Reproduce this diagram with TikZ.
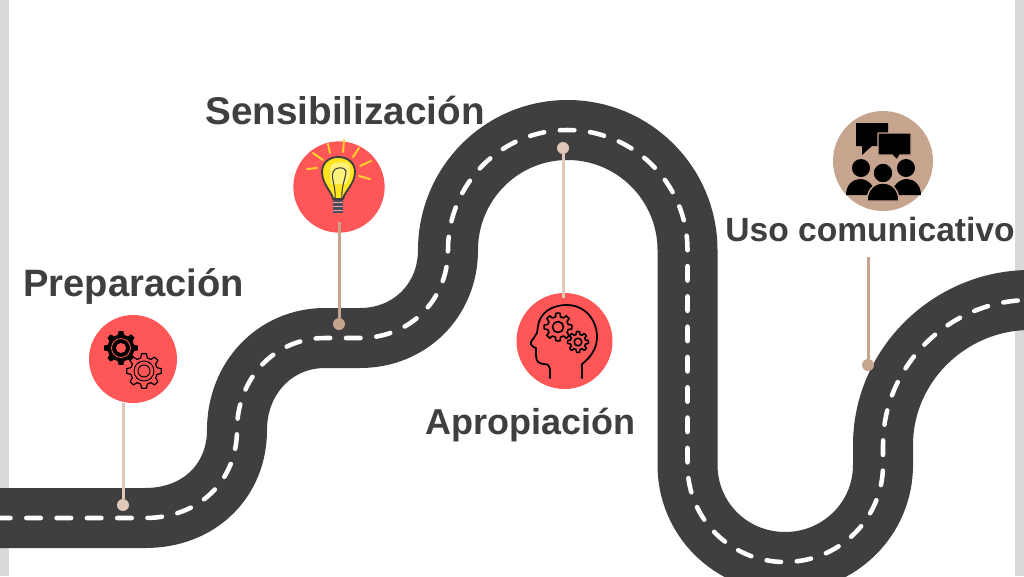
\documentclass[tikz,border=0pt]{standalone}
\usepackage{fontspec}
\setmainfont{Liberation Sans}
\usetikzlibrary{positioning}
\definecolor{roadgray}{HTML}{3F3F3F}
\definecolor{coral}{HTML}{FF5757}
\definecolor{tan}{HTML}{C7A48E}
\definecolor{lighttan}{HTML}{DFC8B7}
\definecolor{sidebar}{HTML}{D9D9D9}
\definecolor{bulbyellow}{HTML}{FFE41F}
\definecolor{bulblight}{HTML}{FFF27A}
\definecolor{raygold}{HTML}{FFCF2E}
\definecolor{basegray}{HTML}{46505F}
\tikzset{
	title/.style={font=\bfseries\fontsize{#1}{30pt}\selectfont, text=roadgray, inner sep=0pt},
	badge/.style={circle, fill=coral, inner sep=0pt},
	pindot/.style={circle, fill=tan, inner sep=0pt, minimum size=9pt},
	pinline/.style={tan, line width=2.25pt},
	ray/.style={raygold, line width=1.5pt, line cap=round},
	iconline/.style={draw=black, line width=1.3pt, line join=round, line cap=round},
}
\begin{document}
\begin{tikzpicture}[x=0.75pt,y=-0.75pt]
	\def\roadpath{(-5,518) -- (145,518) .. controls (200,518) and (237,480) .. (237,430)
		.. controls (237,378) and (275,338) .. (325,338) -- (360,338)
		.. controls (410,338) and (448,300) .. (448,250)
		.. controls (448,184) and (501,130) .. (567.5,130)
		.. controls (634,130) and (687.5,184) .. (687.5,250) -- (687.5,465)
		.. controls (687.5,519) and (731,562) .. (785,562)
		.. controls (839,562) and (883,519) .. (883,465) -- (883,445)
		.. controls (883,365) and (950,300) .. (1030,300)}
	\def\gearline[#1](#2,#3,#4,#5){
		\path[#1, shift={(#2,#3)}] (-14:#5) \foreach \a in {0,45,...,315}{
			-- (\a-14:#5) -- (\a-8:#4) -- (\a+8:#4) -- (\a+14:#5)} -- cycle;}
	\useasboundingbox (0,0) rectangle (1024,576);
	\fill[white] (0,0) rectangle (1024,576);
	\fill[sidebar] (0,0) rectangle (9,576);
	\fill[sidebar] (1015,0) rectangle (1024,576);
	\draw[roadgray, line width=45pt] \roadpath;
	\draw[white, line width=3.4pt, line cap=round, dash pattern=on 10.9pt off 11.83pt, dash phase=22] \roadpath;
	% badges
	\node[badge, minimum size=66pt] (prep) at (133,359) {};
	\node[badge, minimum size=68.5pt] (sens) at (339,187) {};
	\node[badge, minimum size=72pt] (apro) at (564.5,341) {};
	\node[badge, fill=tan, minimum size=75pt] (uso) at (883,161) {};
	% pins
	\node[pindot, fill=lighttan] (prepdot) at (123,505) {};
	\node[pindot] (sensdot) at (339,324) {};
	\node[pindot, fill=lighttan] (aprodot) at (563,148) {};
	\node[pindot] (usodot) at (868,365) {};
	\coordinate (senstop) at (339,222);
	\coordinate (aproend) at (563,298);
	\coordinate (usotop) at (868,257);
	\draw[pinline, lighttan] (prep.south -| prepdot) -- (prepdot);
	\draw[pinline] (senstop) -- (sensdot);
	\draw[pinline, lighttan] (aprodot) -- (aproend);
	\draw[pinline] (usotop) -- (usodot);
	% gears of the first badge
	\gearline[fill=black](121,348,17,13.5)
	\draw[coral, line width=0.6pt] (121,348) circle (9.5);
	\fill[coral] (121,348) circle (5);
	\gearline[draw=black, fill=coral, line width=0.9pt, line join=round](144,371,17.5,13.5)
	\draw[black, line width=0.7pt] (144,371) circle (10) (144,371) circle (6);
	% lamp
	\foreach \xa/\ya/\xb/\yb in {313/153/323/160, 328/144/330/153, 344/140/343/152, 359/148/353/157,
		371/161/360/166, 370/179/359/176, 307/169/317/168}{
		\draw[ray] (\xa,\ya) -- (\xb,\yb);}
	\fill[basegray] (333,198) rectangle (343,213);
	\foreach \y in {202,206,210}{\draw[coral!60!white, line width=0.5pt] (333,\y) -- (343,\y);}
	\draw[roadgray, fill=bulbyellow, line width=1.4pt, line join=round] (333,199)
		.. controls (332,192) and (322,184) .. (322,172)
		.. controls (322,163) and (329,157) .. (338,157)
		.. controls (348,157) and (355,163) .. (355,172)
		.. controls (355,184) and (344,192) .. (343,199) -- cycle;
	\fill[bulblight] (330,172) .. controls (328,163) and (340,160) .. (349,164)
		.. controls (352,170) and (350,178) .. (346,184) -- (331,184) -- cycle;
	\draw[roadgray, line width=0.8pt] (335,198) .. controls (336,186) and (331,180) .. (333,172)
		.. controls (334,167) and (345,166) .. (346,171) .. controls (346,178) and (341,186) .. (342,198);
	% head with gears
	\draw[iconline] (582,378) -- (582,364) .. controls (590,358) and (597,349) .. (597,337)
		.. controls (597,319) and (584,305) .. (567,305) .. controls (551,305) and (540,313) .. (538,326)
		-- (537,333) -- (531,342) .. controls (530,345) and (533,347) .. (536,348) -- (536,356)
		.. controls (536,362) and (540,364) .. (544,364) .. controls (548,364) and (550,366) .. (550,369) -- (550,378);
	\gearline[iconline, line width=1.2pt](558,327,14,10.5)
	\draw[iconline, line width=1.2pt] (558,327) circle (5.5);
	\gearline[iconline, line width=1.2pt](578,342,10.5,7.8)
	\draw[iconline, line width=1.2pt] (578,342) circle (3.8);
	% people talking
	\fill[black] (856,123) rectangle (888,146) (862,146) -- (862,155) -- (872,146) -- cycle;
	\draw[tan, fill=black, line width=1pt, line join=round] (878,133) -- (911,133) -- (911,155) -- (900,155)
		-- (897,160) -- (892,155) -- (878,155) -- cycle;
	\fill[black] (861,168) circle (9) (906,168) circle (9);
	\fill[black] (846,195) .. controls (846,185) and (853,179) .. (860,179)
		.. controls (867,179) and (875,185) .. (875,195) -- cycle;
	\fill[black] (892,195) .. controls (892,185) and (900,179) .. (907,179)
		.. controls (914,179) and (921,185) .. (921,195) -- cycle;
	\draw[tan, fill=black, line width=1pt] (883,173) circle (10);
	\draw[tan, fill=black, line width=1pt] (867,201) .. controls (867,190) and (874,183) .. (883,183)
		.. controls (892,183) and (899,190) .. (899,201) -- cycle;
	% labels
	\node[title=28.6pt] (preplabel) at (133.5,286) {Preparación};
	\node[title=29pt] (senslabel) at (345,111) {Sensibilización};
	\node[title=27pt] (aprolabel) at (530.5,425) {Apropiación};
	\node[title=25.2pt] (usolabel) at (870,229) {Uso comunicativo};
\end{tikzpicture}
\end{document}
